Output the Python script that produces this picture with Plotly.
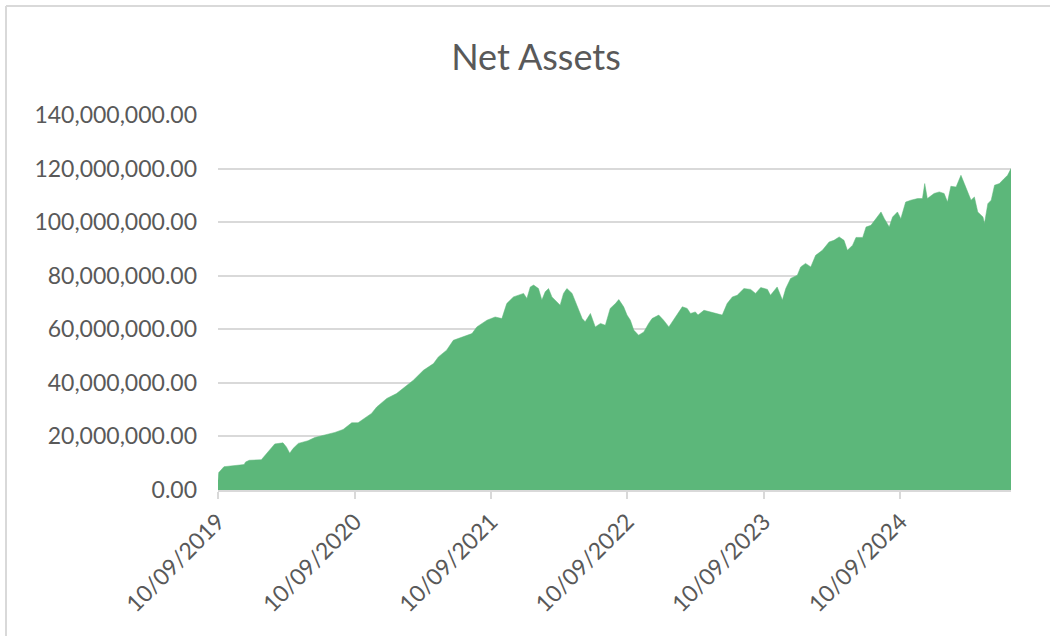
import plotly.graph_objects as go

# ---- data ----
dates = [
    "2019-10-09", "2019-10-11", "2019-10-25", "2019-11-23", "2019-12-18", "2019-12-22",
    "2020-01-01", "2020-02-02", "2020-02-07", "2020-02-20", "2020-03-09", "2020-03-31",
    "2020-04-09", "2020-04-18", "2020-04-27", "2020-05-11", "2020-06-06", "2020-06-24",
    "2020-07-21", "2020-08-17", "2020-09-08", "2020-10-01", "2020-10-18", "2020-11-05",
    "2020-11-23", "2020-12-07", "2021-01-03", "2021-01-29", "2021-02-21", "2021-03-15",
    "2021-04-11", "2021-05-08", "2021-05-21", "2021-06-12", "2021-06-30", "2021-07-27",
    "2021-08-19", "2021-09-01", "2021-09-28", "2021-10-20", "2021-11-07", "2021-11-20",
    "2021-12-08", "2022-01-04", "2022-01-13", "2022-01-22", "2022-01-31", "2022-02-13",
    "2022-02-22", "2022-03-03", "2022-03-12", "2022-03-21", "2022-03-30", "2022-04-12",
    "2022-04-21", "2022-04-30", "2022-05-14", "2022-05-27", "2022-06-10", "2022-06-18",
    "2022-07-02", "2022-07-15", "2022-07-29", "2022-08-11", "2022-08-24", "2022-09-07",
    "2022-09-16", "2022-09-29", "2022-10-08", "2022-10-17", "2022-10-26", "2022-11-08",
    "2022-11-22", "2022-12-05", "2022-12-14", "2023-01-01", "2023-01-14", "2023-01-28",
    "2023-02-10", "2023-03-05", "2023-03-18", "2023-03-27", "2023-04-09", "2023-04-16",
    "2023-05-02", "2023-05-20", "2023-06-07", "2023-06-20", "2023-07-03", "2023-07-17",
    "2023-07-30", "2023-08-17", "2023-09-04", "2023-09-17", "2023-10-01", "2023-10-19",
    "2023-10-27", "2023-11-14", "2023-11-28", "2023-12-07", "2023-12-20", "2024-01-07",
    "2024-01-16", "2024-01-29", "2024-02-12", "2024-02-25", "2024-03-14", "2024-04-01",
    "2024-04-14", "2024-04-28", "2024-05-11", "2024-05-20", "2024-06-03", "2024-06-12",
    "2024-06-30", "2024-07-09", "2024-07-22", "2024-08-05", "2024-08-18", "2024-08-27",
    "2024-09-09", "2024-09-18", "2024-10-01", "2024-10-10", "2024-10-23", "2024-11-06",
    "2024-11-24", "2024-12-07", "2024-12-13", "2024-12-20", "2025-01-07", "2025-01-21",
    "2025-02-03", "2025-02-12", "2025-02-21", "2025-03-07", "2025-03-20", "2025-03-29",
    "2025-04-07", "2025-04-16", "2025-04-25", "2025-05-04", "2025-05-18", "2025-05-22",
    "2025-05-31", "2025-06-09", "2025-06-18", "2025-07-01", "2025-07-14", "2025-07-23",
    "2025-08-01",
]

net_assets_millions = [
    3.5, 6.5, 8.7, 9.2, 9.5, 10.5,
    11.1, 11.3, 12.1, 14.2, 17.2, 17.6,
    16.1, 13.7, 15.5, 17.4, 18.4, 19.6,
    20.5, 21.5, 22.6, 25.1, 25.1, 26.7,
    28.6, 31.0, 34.2, 36.0, 38.5, 41.0,
    44.7, 47.2, 49.7, 52.2, 55.9, 57.2,
    58.4, 60.9, 63.4, 64.6, 64.0, 69.6,
    72.1, 73.4, 71.5, 75.8, 76.5, 75.2,
    70.9, 74.0, 75.2, 72.1, 70.9, 69.0,
    73.4, 75.2, 73.4, 69.0, 64.0, 62.8,
    65.9, 60.9, 62.2, 61.5, 67.8, 69.6,
    71.1, 68.4, 65.3, 63.4, 59.7, 57.8,
    59.0, 62.2, 64.0, 65.3, 63.4, 60.9,
    63.7, 68.4, 67.8, 65.9, 66.5, 65.3,
    67.1, 66.5, 65.9, 65.3, 69.6, 72.1,
    72.7, 75.2, 74.9, 73.4, 75.6, 74.9,
    72.7, 75.8, 70.9, 75.2, 79.0, 80.2,
    83.3, 84.6, 83.3, 87.6, 89.5, 92.6,
    93.2, 94.5, 93.2, 89.5, 91.4, 94.3,
    94.3, 98.2, 98.8, 101.3, 103.8, 101.3,
    98.2, 101.9, 103.8, 101.3, 107.5, 108.2,
    108.8, 108.8, 114.4, 108.8, 110.7, 111.3,
    110.7, 107.5, 113.4, 113.1, 117.5, 114.4,
    111.3, 108.2, 109.4, 103.8, 101.9, 99.5,
    106.9, 108.2, 113.8, 114.4, 116.3, 117.5,
    120.0,
]
net_assets = [v * 1_000_000 for v in net_assets_millions]

x_tick_values = ["2019-10-09", "2020-10-09", "2021-10-09", "2022-10-09", "2023-10-09", "2024-10-09"]
x_tick_labels = ["10/09/2019", "10/09/2020", "10/09/2021", "10/09/2022", "10/09/2023", "10/09/2024"]
y_tick_values = [0, 20e6, 40e6, 60e6, 80e6, 100e6, 120e6, 140e6]

# ---- figure ----
W, H = 1050, 636
ML, MR, MT, MB = 218, 39, 115, 146
PW, PH = W - ML - MR, H - MT - MB

def px_x(p):
    return (p - ML) / PW

def px_y(p):
    return (H - MB - p) / PH

TEXT = "#595959"
GRID = "#d9d9d9"
GREEN = "#5cb77a"
FONT = "Lato, 'Open Sans', sans-serif"

fig = go.Figure(
    go.Scatter(
        x=dates,
        y=net_assets,
        mode="lines",
        line=dict(color=GREEN, width=0.5),
        fill="tozeroy",
        fillcolor=GREEN,
        hoverinfo="x+y",
    )
)

fig.update_layout(
    width=W,
    height=H,
    margin=dict(l=ML, r=MR, t=MT, b=MB, pad=0),
    paper_bgcolor="white",
    plot_bgcolor="white",
    showlegend=False,
    font=dict(family=FONT, color=TEXT),
    title=dict(
        text="Net Assets",
        x=536 / W,
        y=1 - 57 / H,
        xref="container",
        yref="container",
        xanchor="center",
        yanchor="middle",
        font=dict(family=FONT, size=36, color=TEXT),
    ),
    xaxis=dict(
        type="date",
        range=[dates[0], dates[-1]],
        tickvals=x_tick_values,
        ticktext=x_tick_labels,
        tickangle=-45,
        tickfont=dict(family=FONT, size=23, color=TEXT),
        showgrid=False,
        showline=True,
        linecolor=GRID,
        linewidth=2,
        ticks="outside",
        ticklen=7,
        tickwidth=2,
        tickcolor=GRID,
        zeroline=False,
    ),
    yaxis=dict(
        range=[0, 140e6],
        tickvals=y_tick_values,
        tickformat=",.2f",
        tickfont=dict(family=FONT, size=23, color=TEXT),
        showgrid=True,
        gridcolor=GRID,
        gridwidth=2,
        zeroline=False,
        showline=False,
        ticks="",
        ticklabelstandoff=20,
    ),
    shapes=[
        dict(type="line", xref="paper", yref="paper",
             x0=px_x(6), x1=px_x(6), y0=px_y(6), y1=px_y(H + 5),
             line=dict(color=GRID, width=2), layer="below"),
        dict(type="line", xref="paper", yref="paper",
             x0=px_x(6), x1=px_x(W + 5), y0=px_y(6), y1=px_y(6),
             line=dict(color=GRID, width=2), layer="below"),
    ],
)

fig.write_html(
    "out.html",
    config={"displayModeBar": False},
    post_script="document.body.style.margin='0px';document.body.style.overflow='hidden';",
)
